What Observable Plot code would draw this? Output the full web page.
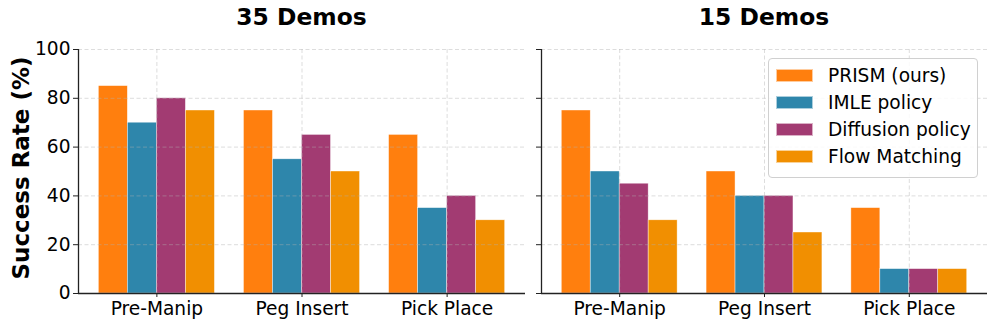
<!DOCTYPE html>
<html>
<head>
<meta charset="utf-8">
<script src="https://cdn.jsdelivr.net/npm/d3@7"></script>
<script src="https://cdn.jsdelivr.net/npm/@observablehq/plot@0.6"></script>
<style>
  html, body { margin: 0; padding: 0; background: #fff; }
  body { width: 996px; height: 328px; overflow: hidden; font-family: "DejaVu Sans", sans-serif; }
  #wrap { position: relative; width: 996px; height: 328px; }
  .panel { position: absolute; top: 0; }
  .panel svg { font-family: "DejaVu Sans", sans-serif; background: transparent; }
  .title { position: absolute; top: 6px; font-weight: bold; font-size: 23.4px; line-height: 23px; transform: translateX(-50%); white-space: nowrap; color: #000; }
  .ylab { position: absolute; left: 21px; top: 168px; font-weight: bold; font-size: 23px; white-space: nowrap; transform: translate(-50%, -50%) rotate(-90deg); color: #000; }
  .legend { position: absolute; left: 768px; top: 58px; width: 210px; height: 120px; border: 1px solid #d0d0d0; border-radius: 4px; background: rgba(255,255,255,0.85); box-sizing: border-box; }
  .lrow { position: absolute; left: 7px; height: 20px; display: flex; align-items: center; font-size: 18.6px; color: #000; white-space: nowrap; }
  .sw { width: 37px; height: 13px; margin-right: 15px; box-sizing: border-box; border: 0.5px solid rgba(255,255,255,0.6); }
</style>
</head>
<body>
<div id="wrap"></div>
<script>
const panels = ["35 Demos", "15 Demos"];
const categories = ["Pre-Manip", "Peg Insert", "Pick Place"];
const methods = ["PRISM (ours)", "IMLE policy", "Diffusion policy", "Flow Matching"];
const colors = ["#FF7F0E", "#2E86AB", "#A23B72", "#F18F01"];
const yTicks = [0, 20, 40, 60, 80, 100];

// 35 Demos
const prism35 = [85, 75, 65];
const imle35 = [70, 55, 35];
const diffusion35 = [80, 65, 40];
const flow35 = [75, 50, 30];
// 15 Demos
const prism15 = [75, 50, 35];
const imle15 = [50, 40, 10];
const diffusion15 = [45, 40, 10];
const flow15 = [30, 25, 10];

const panelSeries = [
  [prism35, imle35, diffusion35, flow35],
  [prism15, imle15, diffusion15, flow15]
];

const barWidth = 0.2;
function rowsFor(p) {
  const rows = [];
  panelSeries[p].forEach((vals, mi) => {
    vals.forEach((v, ci) => {
      const x1 = ci + (mi - 2) * barWidth;
      rows.push({method: methods[mi], category: categories[ci], x1, x2: x1 + barWidth, base: 0, value: v});
    });
  });
  return rows;
}

const xDomain = [-0.54, 2.54];
const catIdx = categories.map((c, i) => i);
const gridStyle = {stroke: "#b0b0b0", strokeOpacity: 0.55, strokeWidth: 0.8, strokeDasharray: "4,2.5"};

function makePlot(p, opts) {
  return Plot.plot({
    width: opts.width, height: 328,
    marginTop: 49, marginBottom: 35, marginLeft: opts.ml, marginRight: opts.mr,
    x: {domain: xDomain, ticks: catIdx, tickFormat: i => categories[i]},
    y: {domain: [0, 100], ticks: yTicks},
    color: {domain: methods, range: colors},
    marks: [
      Plot.rect(rowsFor(p), {x1: "x1", x2: "x2", y1: "base", y2: "value", fill: "method", stroke: "white", strokeWidth: 0.6, strokeOpacity: 0.7}),
      Plot.gridX(catIdx, gridStyle),
      Plot.gridY(yTicks.filter(d => d > 0), gridStyle),
      Plot.axisX({ticks: catIdx, tickFormat: i => categories[i], tickSize: 4, tickPadding: 4, fontSize: 18.6, label: null, stroke: "#222", color: "#000"}),
      Plot.axisY({ticks: yTicks, tickSize: 5, tickPadding: 3, fontSize: 18.6, label: null, stroke: "#222", color: "#000",
        tickFormat: opts.ylabels ? (d => String(d)) : (() => "")}),
      Plot.ruleX([xDomain[0]], {stroke: "#222", strokeWidth: 1.3}),
      Plot.ruleY([0], {stroke: "#222", strokeWidth: 1.3})
    ]
  });
}

const wrap = document.getElementById("wrap");
const specs = [
  {left: 0, width: 530, ml: 78, mr: 5, ylabels: true},
  {left: 530, width: 466, ml: 11, mr: 9, ylabels: false}
];
specs.forEach((s, p) => {
  const div = document.createElement("div");
  div.className = "panel";
  div.style.left = s.left + "px";
  div.appendChild(makePlot(p, s));
  wrap.appendChild(div);
  const t = document.createElement("div");
  t.className = "title";
  t.textContent = panels[p];
  t.style.left = (s.left + s.ml + (s.width - s.ml - s.mr) / 2) + "px";
  wrap.appendChild(t);
});

const yl = document.createElement("div");
yl.className = "ylab";
yl.textContent = "Success Rate (%)";
wrap.appendChild(yl);

const leg = document.createElement("div");
leg.className = "legend";
methods.forEach((m, i) => {
  const r = document.createElement("div");
  r.className = "lrow";
  r.style.top = (6 + i * 27) + "px";
  const sw = document.createElement("div");
  sw.className = "sw";
  sw.style.background = colors[i];
  const tx = document.createElement("span");
  tx.textContent = m;
  r.appendChild(sw);
  r.appendChild(tx);
  leg.appendChild(r);
});
wrap.appendChild(leg);
</script>
</body>
</html>
